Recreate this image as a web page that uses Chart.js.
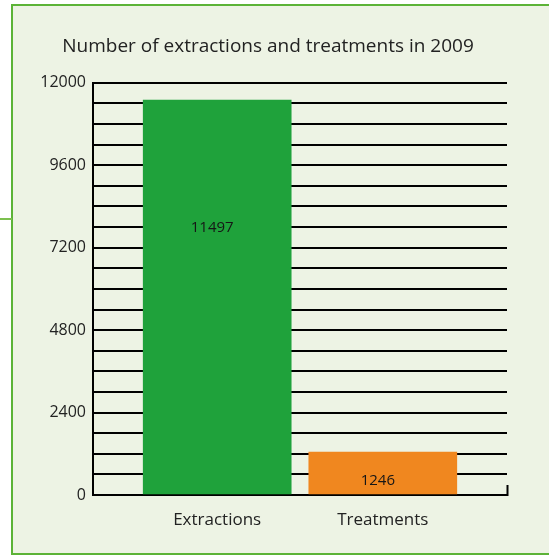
<!DOCTYPE html>
<html>
<head>
<meta charset="utf-8">
<script src="https://cdn.jsdelivr.net/npm/chart.js@4"></script>
<style>
  html, body { margin: 0; padding: 0; width: 549px; height: 556px; overflow: hidden; background: #ffffff; }
  #card { position: absolute; left: 11px; top: 4px; width: 560px; height: 547px; background: #edf3e4; border: 2px solid #5cb337; box-sizing: content-box; }
  #stub { position: absolute; left: 0; top: 218px; width: 12px; height: 2px; background: #7cc04f; }
  #c { position: absolute; left: 0; top: 0; }
</style>
</head>
<body>
<div id="card"></div>
<div id="stub"></div>
<canvas id="c" width="549" height="556"></canvas>
<script>
const chartTitle = 'Number of extractions and treatments in 2009';
const categories = ['Extractions', 'Treatments'];
const categoryPositions = [1, 2];
const values = [11497, 1246];
const barColors = ['#1fa23b', '#f0871f'];
const yTickLabels = [0, 2400, 4800, 7200, 9600, 12000];

const FONT = "'Open Sans', 'DejaVu Sans', sans-serif";
const X_MIN = 0.25, X_MAX = 2.75;

const barLabels = {
  id: 'barLabels',
  afterDatasetsDraw(chart, args, opts) {
    const ctx = chart.ctx;
    const meta = chart.getDatasetMeta(0);
    const yScale = chart.scales.y;
    ctx.save();
    ctx.font = '15px ' + FONT;
    ctx.fillStyle = '#161616';
    ctx.textAlign = 'center';
    ctx.textBaseline = 'middle';
    meta.data.forEach((bar, i) => {
      const v = values[i];
      const y = yScale.getPixelForValue(v * opts.anchor[i]);
      ctx.fillText(String(v), bar.x + opts.dx, y);
    });
    ctx.restore();
  }
};

new Chart(document.getElementById('c'), {
  type: 'bar',
  data: {
    datasets: [{
      data: categories.map((c, i) => ({ x: categoryPositions[i], y: values[i] })),
      backgroundColor: barColors,
      borderWidth: 0,
      barThickness: 148
    }]
  },
  options: {
    responsive: false,
    animation: false,
    devicePixelRatio: 1,
    layout: { padding: { left: 29, right: 42, top: 0, bottom: 21 } },
    plugins: {
      legend: { display: false },
      tooltip: { enabled: false },
      title: {
        display: true,
        text: chartTitle,
        color: '#222222',
        font: { family: FONT, size: 19, weight: 'normal' },
        padding: { top: 35, bottom: 25 }
      },
      barLabels: { anchor: [0.676, 0.327], dx: -5 }
    },
    scales: {
      x: {
        type: 'linear',
        min: X_MIN,
        max: X_MAX,
        offset: false,
        bounds: 'data',
        afterBuildTicks(scale) {
          scale.ticks = categoryPositions.map(v => ({ value: v })).concat([{ value: X_MAX }]);
        },
        afterFit(scale) { scale.height = 40; },
        ticks: {
          autoSkip: false,
          maxRotation: 0,
          color: '#222222',
          font: { family: FONT, size: 17 },
          padding: 25,
          callback(v) {
            const i = categoryPositions.indexOf(v);
            return i >= 0 ? categories[i] : '';
          }
        },
        grid: {
          display: true,
          offset: false,
          drawOnChartArea: false,
          drawTicks: true,
          tickLength: -10,
          tickWidth: 2,
          tickColor(ctx) { return ctx.tick && ctx.tick.value === X_MAX ? '#000000' : 'rgba(0,0,0,0)'; }
        },
        border: { display: true, color: '#000000', width: 2 }
      },
      y: {
        min: 0,
        max: 12000,
        afterFit(scale) { scale.width = 64; },
        ticks: {
          stepSize: 600,
          autoSkip: false,
          color: '#222222',
          font: { family: FONT, size: 16 },
          padding: 7,
          callback(v) { return yTickLabels.includes(v) ? String(v) : ''; }
        },
        grid: {
          color: '#000000',
          lineWidth: 2,
          drawTicks: false
        },
        border: { display: true, color: '#000000', width: 2 }
      }
    }
  },
  plugins: [barLabels]
});
</script>
</body>
</html>
